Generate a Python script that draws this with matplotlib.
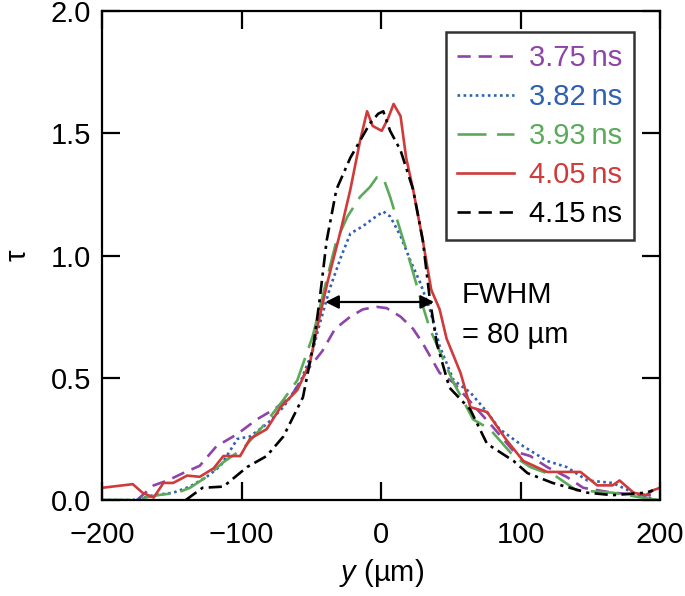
import matplotlib
matplotlib.use("Agg")
import matplotlib.pyplot as plt
from matplotlib.lines import Line2D

plt.rcParams['font.family'] = ['Liberation Sans', 'DejaVu Sans']
plt.rcParams['mathtext.fontset'] = 'custom'
plt.rcParams['mathtext.it'] = 'Liberation Sans:italic'
plt.rcParams['mathtext.rm'] = 'Liberation Sans'

# y position (um) and tau
x375 = [-175, -163, -153, -142, -130, -118, -103, -89, -77, -65, -53, -42, -33, -22, -13, -3, 4,
        14, 23, 30, 42, 52, 69, 80, 95, 107, 119, 133, 145, 166, 190, 195]
y375 = [0.0, 0.06, 0.08, 0.11, 0.14, 0.22, 0.27, 0.33, 0.37, 0.42, 0.53, 0.61, 0.70, 0.75, 0.78, 0.79, 0.785,
        0.75, 0.70, 0.64, 0.52, 0.48, 0.37, 0.30, 0.20, 0.18, 0.135, 0.095, 0.05, 0.03, 0.02, 0.02]

x382 = [-200, -178, -163, -149, -137, -125, -115, -103, -94, -82, -70, -58, -49, -44, -37, -29, -22, -13,
        -6, 1.6, 6.5, 14, 21, 28, 35, 42, 52, 64, 76, 85, 102, 119, 133, 148, 166, 181, 197, 200]
y382 = [0.0, 0.0, 0.02, 0.03, 0.055, 0.095, 0.14, 0.25, 0.26, 0.31, 0.38, 0.48, 0.61, 0.72, 0.86, 0.99, 1.09, 1.12,
        1.15, 1.18, 1.16, 1.08, 0.98, 0.89, 0.78, 0.63, 0.49, 0.44, 0.36, 0.29, 0.22, 0.16, 0.135, 0.08, 0.07, 0.03, 0.0, 0.0]

x393 = [-200, -178, -160, -146, -137, -125, -113, -99, -85, -70, -60, -49, -39, -32, -24, -15, -8, -3,
        1.5, 6.5, 14, 21, 28, 35, 52, 66, 78, 95, 107, 126, 140, 166, 198, 200]
y393 = [0.0, 0.0, 0.02, 0.03, 0.05, 0.095, 0.155, 0.21, 0.30, 0.41, 0.49, 0.67, 0.90, 1.06, 1.16, 1.24, 1.28, 1.32,
        1.32, 1.24, 1.10, 0.97, 0.83, 0.70, 0.48, 0.33, 0.29, 0.18, 0.135, 0.095, 0.04, 0.03, 0.0, 0.0]

x405 = [-200, -178, -171, -163, -156, -149, -139, -130, -120, -113, -101, -94, -82, -72, -60, -51, -46, -38,
        -29, -22, -15, -10, -6, 0.5, 5, 9, 14, 18, 23, 30, 36, 42, 47, 57, 64, 76, 90, 102, 119, 143,
        155, 166, 171, 181, 190, 195, 200]
y405 = [0.05, 0.065, 0.03, 0.01, 0.07, 0.07, 0.10, 0.095, 0.13, 0.18, 0.18, 0.25, 0.29, 0.38, 0.45, 0.56, 0.70, 0.90,
        1.10, 1.27, 1.47, 1.59, 1.53, 1.51, 1.56, 1.62, 1.57, 1.40, 1.27, 1.06, 0.86, 0.78, 0.66, 0.52, 0.38, 0.36, 0.245, 0.16, 0.115, 0.115,
        0.06, 0.06, 0.08, 0.03, 0.02, 0.04, 0.05]

x415 = [-140, -128, -113, -96, -82, -70, -56, -48, -44, -39, -32, -22, -15, -8, -2, 1.6, 6.5, 14, 23, 30,
        35, 40, 49, 64, 76, 95, 105, 123, 148, 166, 190, 195]
y415 = [0.0, 0.05, 0.055, 0.135, 0.18, 0.26, 0.42, 0.65, 0.82, 1.06, 1.27, 1.40, 1.47, 1.54, 1.58, 1.59, 1.51, 1.43, 1.27, 1.06,
        0.82, 0.64, 0.46, 0.37, 0.23, 0.16, 0.11, 0.07, 0.03, 0.02, 0.03, 0.04]

labels = ['3.75\u2009ns', '3.82\u2009ns', '3.93\u2009ns', '4.05\u2009ns', '4.15\u2009ns']
colors = ['#8e44a8', '#3060b0', '#5aaa5a', '#d03a3a', '#000000']

fig = plt.figure(figsize=(6.85, 5.96), dpi=100)
ax = fig.add_axes([0.149, 0.161, 0.8145, 0.8205])

lw = 1.9
ax.plot(x375, y375, color=colors[0], lw=lw, dashes=(5, 3))
ax.plot(x382, y382, color=colors[1], lw=lw, dashes=(1.0, 1.3))
ax.plot(x393, y393, color=colors[2], lw=lw, dashes=(11, 4))
ax.plot(x405, y405, color=colors[3], lw=lw)
ax.plot(x415, y415, color=colors[4], lw=lw, dashes=(5, 2, 1.2, 2))

# FWHM arrow
ax.annotate('', xy=(-40, 0.81), xytext=(38, 0.81),
            arrowprops=dict(arrowstyle='<|-|>', color='black', lw=1.6,
                            mutation_scale=20, shrinkA=0, shrinkB=0))
ax.text(58, 0.806, 'FWHM', fontsize=21, va='baseline', ha='left')
ax.text(58, 0.642, '= 80 \u00b5m', fontsize=21, va='baseline', ha='left')

ax.set_xlim(-200, 200)
ax.set_ylim(0, 2.0)
ax.set_xticks([-200, -100, 0, 100, 200])
ax.set_yticks([0, 0.5, 1.0, 1.5, 2.0])
ax.set_yticklabels(['0.0', '0.5', '1.0', '1.5', '2.0'])
ax.tick_params(direction='in', length=13, width=1.6, labelsize=21,
               top=True, right=True)
ax.tick_params(axis='y', pad=8)
ax.tick_params(axis='x', pad=15)
for s in ax.spines.values():
    s.set_linewidth(1.6)

ax.set_xlabel('$y$ (\u00b5m)', fontsize=21, labelpad=6)
ax.set_ylabel('\u03c4', fontsize=21, labelpad=14)

handles = [
    Line2D([], [], color=colors[0], lw=lw, dashes=(5, 3)),
    Line2D([], [], color=colors[1], lw=lw, dashes=(1.0, 1.3)),
    Line2D([], [], color=colors[2], lw=lw, dashes=(11, 4)),
    Line2D([], [], color=colors[3], lw=lw),
    Line2D([], [], color=colors[4], lw=lw, dashes=(5, 3)),
]
leg = ax.legend(handles, labels, loc='upper right', bbox_to_anchor=(0.953, 0.957),
                fontsize=21, frameon=True, fancybox=False, handlelength=1.95,
                handletextpad=0.5, labelspacing=0.38, borderpad=0.4, borderaxespad=0)
leg.get_frame().set_edgecolor('black')
leg.get_frame().set_linewidth(1.8)
for t, c in zip(leg.get_texts(), colors):
    t.set_color(c)

fig.savefig('out.png', dpi=100)
